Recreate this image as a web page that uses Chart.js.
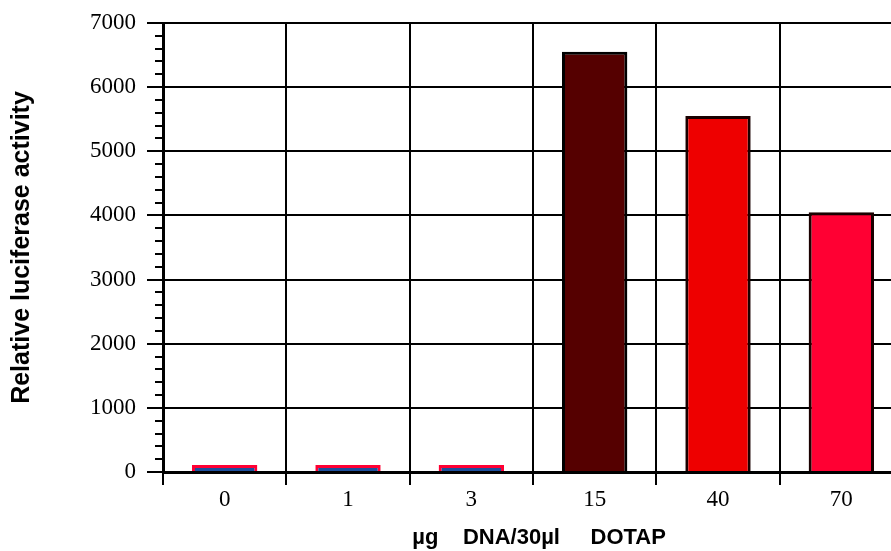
<!DOCTYPE html>
<html>
<head>
<meta charset="utf-8">
<script src="https://cdn.jsdelivr.net/npm/chart.js@4/dist/chart.umd.min.js"></script>
<style>
html,body{margin:0;padding:0;background:#fff;overflow:hidden;}
#wrap{width:905px;height:551px;position:relative;}
</style>
</head>
<body>
<div id="wrap"><canvas id="c" width="905" height="551"></canvas></div>
<script>
const categories = ['0', '1', '3', '15', '40', '70'];
const luciferase = [110, 110, 110, 6550, 5550, 4050];
const yTicks = [0, 1000, 2000, 3000, 4000, 5000, 6000, 7000];
const barFill = ['#1d4f9c', '#1d4f9c', '#1d4f9c', '#550000', '#ee0000', '#ff0033'];
const barEdge = ['#ff0033', '#ff0033', '#ff0033', '#000000', '#1a0000', '#1a0000'];
const xTitle = '  µg    DNA/30µl     DOTAP';
const yTitle = 'Relative luciferase activity';

const minorTicks = {
  id: 'minorTicks',
  afterDraw(chart) {
    const y = chart.scales.y, ctx = chart.ctx;
    const x0 = chart.chartArea.left;
    ctx.save();
    ctx.strokeStyle = '#000';
    ctx.lineWidth = 2;
    for (let v = 200; v < 7000; v += 200) {
      if (v % 1000 === 0) continue;
      const py = Math.round(y.getPixelForValue(v));
      ctx.beginPath();
      ctx.moveTo(x0 - 8, py);
      ctx.lineTo(x0, py);
      ctx.stroke();
    }
    ctx.restore();
  }
};

new Chart(document.getElementById('c'), {
  type: 'bar',
  data: {
    labels: categories,
    datasets: [{
      data: luciferase,
      backgroundColor: barFill,
      borderColor: barEdge,
      borderWidth: 3,
      borderSkipped: 'bottom',
      barPercentage: 0.53,
      categoryPercentage: 1.0
    }]
  },
  options: {
    responsive: false,
    animation: false,
    devicePixelRatio: 1,
    layout: { padding: { top: 23, right: 2, left: 0, bottom: 0 } },
    plugins: { legend: { display: false }, tooltip: { enabled: false } },
    scales: {
      x: {
        afterFit(s) { s.height = 79; s.paddingLeft = 0; s.paddingRight = 0; },
        grid: { color: '#000', lineWidth: 2, tickLength: 13, offset: true, drawOnChartArea: true },
        border: { color: '#000', width: 3 },
        ticks: { color: '#000', font: { family: 'Liberation Serif', size: 23 }, padding: 1, maxRotation: 0 },
        title: { display: true, text: xTitle, color: '#000',
                 font: { family: 'Liberation Sans', size: 22, weight: 'bold' },
                 padding: { top: 0, bottom: 0 } }
      },
      y: {
        min: 0, max: 7000,
        afterFit(s) { s.width = 163; s.paddingTop = 0; s.paddingBottom = 0; },
        afterBuildTicks(s) { s.ticks = yTicks.map(v => ({ value: v })); },
        grid: { color: '#000', lineWidth: 2, tickLength: 16 },
        border: { color: '#000', width: 3 },
        ticks: { color: '#000', font: { family: 'Liberation Serif', size: 23 }, padding: 11,
                 callback: (v) => String(v) },
        title: { display: true, text: yTitle, color: '#000',
                 font: { family: 'Liberation Sans', size: 25, weight: 'bold' },
                 padding: { top: 7, bottom: 0 } }
      }
    }
  },
  plugins: [minorTicks]
});
</script>
</body>
</html>
